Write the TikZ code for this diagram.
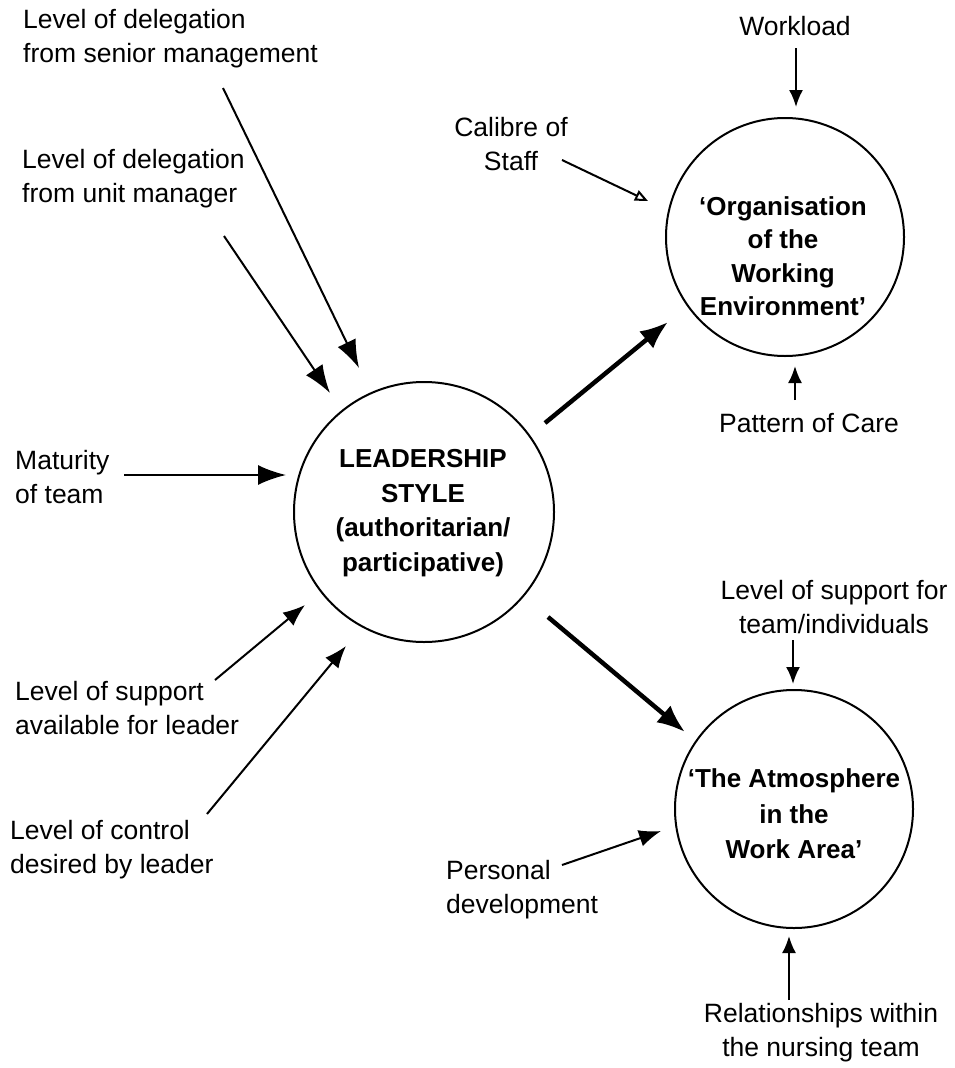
\documentclass[tikz,border=0pt]{standalone}
\usepackage{fontspec}
\setmainfont{Liberation Sans}
\usetikzlibrary{arrows.meta}
\begin{document}
\begin{tikzpicture}[x=1pt,y=-1pt,
  lbl/.style={inner sep=0pt, font=\fontsize{26.5}{34}\selectfont},
  hubtext/.style={inner sep=0pt, align=center, font=\fontsize{26}{34.5}\selectfont\bfseries},
  hub/.style={circle, draw, line width=2pt, minimum size=#1, inner sep=0pt},
  feed/.style={line width=2pt, -{Latex[length=28pt,width=20pt]}},
  feedm/.style={line width=2pt, -{Latex[length=22pt,width=17pt]}},
  feeds/.style={line width=2pt, -{Latex[length=17pt,width=14pt]}},
  feedo/.style={line width=2pt, -{Triangle[open,length=13pt,width=11pt,line width=2pt]}},
  flow/.style={line width=4.5pt, -{Latex[length=28pt,width=22pt]}},
]
\fill[white] (0,0) rectangle (954,1068);
\path[use as bounding box] (0,0) rectangle (954,1068);

% the three central ideas
\node[hub=260pt] (lead) at (424,512) {};
\node[hub=238pt] (org) at (785,237) {};
\node[hub=238pt] (atm) at (794,809) {};

\node[hubtext] (leadtxt) at (423,513) {LEADERSHIP\\STYLE\\(authoritarian/\\participative)};
\node[hubtext, font=\fontsize{26}{33.5}\selectfont\bfseries] (orgtxt) at (783,256) {‘Organisation\\of the\\Working\\Environment’};
\node[hubtext, font=\fontsize{26}{35.5}\selectfont\bfseries] (atmtxt) at (794,814) {‘The Atmosphere\\in the\\Work Area’};

% influencing factors
\node[lbl, align=left, anchor=west] (senior) at (23,39) {Level of delegation\\ from senior management};
\node[lbl, align=left, anchor=west] (unit) at (22,179) {Level of delegation\\from unit manager};
\node[lbl, align=left, anchor=west] (matur) at (15,477) {Maturity\\of team};
\node[lbl, align=left, anchor=west] (suppl) at (15,708) {Level of support\\available for leader};
\node[lbl, align=left, anchor=west] (ctrl) at (10,850) {Level of control\\desired by leader};
\node[lbl, align=center] (calibre) at (511,144) {Calibre of\\Staff};
\node[lbl] (work) at (795,26) {Workload};
\node[lbl] (pattern) at (809,423) {Pattern of Care};
\node[lbl, align=center] (suppt) at (834,607) {Level of support for\\team/individuals};
\node[lbl, align=left, anchor=west] (pers) at (446,890) {Personal\\development};
\node[lbl, align=center] (rel) at (821,1033) {Relationships within\\the nursing team};

% arrow end points
\coordinate (seniorA) at (223,88);   \coordinate (seniorB) at (359,368);
\coordinate (unitA) at (224,236);    \coordinate (unitB) at (330,393);
\coordinate (maturA) at (124,475);   \coordinate (maturB) at (286,475);
\coordinate (supplA) at (215,680);   \coordinate (supplB) at (305,605);
\coordinate (ctrlA) at (207,814);    \coordinate (ctrlB) at (346,646);
\coordinate (calA) at (562,160);     \coordinate (calB) at (648,201);
\coordinate (workA) at (796,48);     \coordinate (workB) at (796,107);
\coordinate (patA) at (795,400);     \coordinate (patB) at (795,366);
\coordinate (supptA) at (793,640);   \coordinate (supptB) at (793,684);
\coordinate (persA) at (562,865);    \coordinate (persB) at (661,831);
\coordinate (relA) at (789,1000);    \coordinate (relB) at (789,936);
\coordinate (outA) at (545,423);     \coordinate (outB) at (668,322);
\coordinate (downA) at (548,617);    \coordinate (downB) at (685,732);

\draw[feed] (seniorA) -- (seniorB);
\draw[feed] (unitA) -- (unitB);
\draw[feed] (maturA) -- (maturB);
\draw[feedm] (supplA) -- (supplB);
\draw[feedm] (ctrlA) -- (ctrlB);
\draw[feedo] (calA) -- (calB);
\draw[feeds] (workA) -- (workB);
\draw[feeds] (patA) -- (patB);
\draw[feeds] (supptA) -- (supptB);
\draw[feedm] (persA) -- (persB);
\draw[feeds] (relA) -- (relB);
\draw[flow] (outA) -- (outB);
\draw[flow] (downA) -- (downB);
\end{tikzpicture}
\end{document}
